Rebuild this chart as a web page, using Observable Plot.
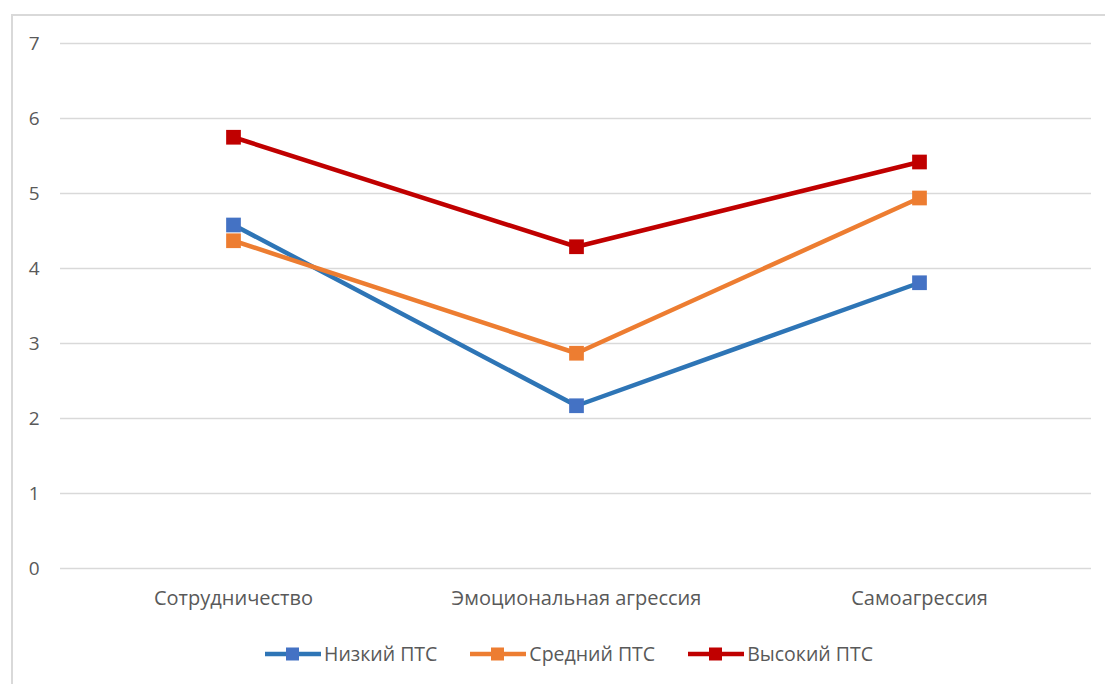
<!DOCTYPE html>
<html>
<head>
<meta charset="utf-8">
<script src="https://cdn.jsdelivr.net/npm/d3@7"></script>
<script src="https://cdn.jsdelivr.net/npm/@observablehq/plot@0.6"></script>
<style>
  html, body { margin: 0; padding: 0; background: #fff; }
  body { width: 1105px; height: 684px; position: relative; overflow: hidden; font-family: "Open Sans", "Noto Sans", sans-serif; }
  #frame { position: absolute; left: 11px; top: 14px; width: 1200px; height: 700px; border-left: 2px solid #d9d9d9; border-top: 2px solid #d9d9d9; box-sizing: border-box; pointer-events: none; }
  #chart { position: absolute; left: 0; top: 0; }
  #legend { position: absolute; left: 265px; top: 640px; display: flex; gap: 33px; font-size: 19.5px; color: #595959; }
  .item { display: flex; align-items: center; gap: 3px; }
</style>
</head>
<body>
<div id="chart"></div>
<div id="legend"></div>
<div id="frame"></div>
<script>
const categories = ["Сотрудничество", "Эмоциональная агрессия", "Самоагрессия"];
const seriesNames = ["Низкий ПТС", "Средний ПТС", "Высокий ПТС"];
const lowValues = [4.58, 2.17, 3.81];
const midValues = [4.37, 2.87, 4.94];
const highValues = [5.75, 4.29, 5.42];
const yTicks = [0, 1, 2, 3, 4, 5, 6, 7];
const lineColors = ["#2E75B6", "#ED7D31", "#C00000"];
const markerColors = ["#4472C4", "#ED7D31", "#C00000"];

const allValues = [lowValues, midValues, highValues];
const data = [];
seriesNames.forEach((s, i) => categories.forEach((c, j) => data.push({series: s, category: c, value: allValues[i][j], idx: i})));

const marks = [
  Plot.gridY(yTicks, {stroke: "#d9d9d9", strokeOpacity: 1, strokeWidth: 1.5}),
  Plot.axisY(yTicks, {tickSize: 0, tickPadding: 21, fontSize: 19, fill: "#595959", label: null, tickFormat: d3.format("d")}),
  Plot.axisX({tickSize: 0, tickPadding: 22, fontSize: 20, fill: "#595959", label: null})
];
seriesNames.forEach((s, i) => {
  const d = data.filter(r => r.series === s);
  marks.push(Plot.line(d, {x: "category", y: "value", stroke: lineColors[i], strokeWidth: 4.5}));
  marks.push(Plot.dot(d, {x: "category", y: "value", symbol: "square", r: 8.3, fill: markerColors[i], stroke: "none"}));
});

const chart = Plot.plot({
  width: 1105,
  height: 630,
  marginTop: 43,
  marginBottom: 62,
  marginLeft: 60,
  marginRight: 14,
  style: {fontFamily: "'Open Sans', 'Noto Sans', sans-serif", background: "transparent"},
  x: {type: "point", domain: categories, padding: 0.5, label: null},
  y: {domain: [0, 7], label: null},
  marks
});
document.getElementById("chart").appendChild(chart);

const legend = document.getElementById("legend");
seriesNames.forEach((s, i) => {
  const item = document.createElement("div");
  item.className = "item";
  item.innerHTML = `<svg width="56" height="16"><line x1="0" y1="8" x2="56" y2="8" stroke="${lineColors[i]}" stroke-width="4.5"/><rect x="21" y="1.5" width="13" height="13" fill="${markerColors[i]}"/></svg><span>${s}</span>`;
  legend.appendChild(item);
});
</script>
</body>
</html>
